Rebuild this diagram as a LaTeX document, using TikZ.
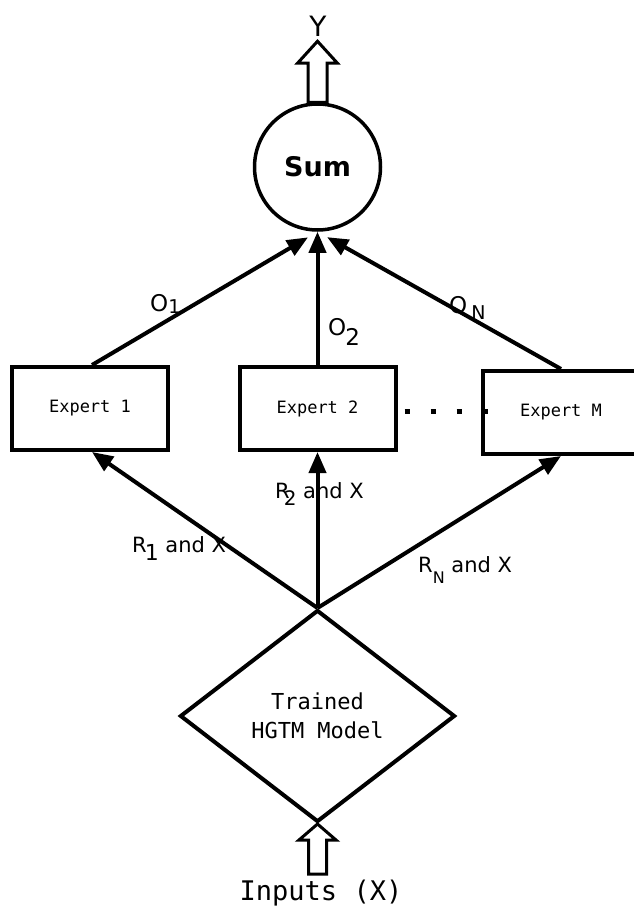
\documentclass[tikz,border=0pt]{standalone}
\usepackage{fontspec}
\setmainfont{DejaVu Sans}
\newfontfamily\monofont{DejaVu Sans Mono}
\usetikzlibrary{shapes.geometric,arrows.meta}
% lowered, resized subscript: #1 drop (pt), #2 size (pt), #3 text
\newcommand\dropsub[3]{\raisebox{-#1pt}{\fontsize{#2}{#2}\selectfont #3}}
\newcommand\expertfont{\monofont\fontsize{17}{20}\selectfont}
\newcommand\modelfont{\monofont\fontsize{22}{29}\selectfont}
\begin{document}
\begin{tikzpicture}[x=1pt,y=-1pt,
  box/.style={draw, line width=4pt, minimum width=156pt, minimum height=83pt,
    inner sep=0pt},
  link/.style={line width=4pt, -{Triangle[length=21pt,width=17pt]}},
  hollow/.style={draw, line width=3pt, fill=white, line join=miter},
  olbl/.style={inner sep=0pt, anchor=base west, font=\fontsize{23}{26}\selectfont},
  rlbl/.style={inner sep=0pt, anchor=base west, font=\fontsize{21}{24}\selectfont},
]
\useasboundingbox (0,0) rectangle (634,907);
\fill[white] (0,0) rectangle (634,907);

% nodes
\node[circle, draw, line width=3.5pt, minimum size=126pt, inner sep=0pt,
      font=\bfseries\fontsize{27}{30}\selectfont] (sum) at (317.5,167) {Sum};
\node[box] (e1) at (90,408.5) {\expertfont Expert 1};
\node[box] (e2) at (317.5,408.5) {\expertfont Expert 2};
\node[box] (em) at (561,412.5) {\expertfont Expert M};
\node[diamond, draw, line width=4pt, aspect=1.297, minimum width=275pt,
      minimum height=212pt, inner sep=0pt, align=center,
      font=\modelfont] (hgtm) at (317.5,716) {Trained\\HGTM Model};
\node[anchor=base, inner sep=0pt, font=\fontsize{28}{30}\selectfont] (yout) at (318,37) {Y};
\node[anchor=base, inner sep=0pt, font=\monofont\fontsize{27}{30}\selectfont] (xin) at (321,900) {Inputs (X)};

% hollow output arrow above the sum
\draw[hollow] ([xshift=-9.5pt]sum.north) -- ++(0,-39) -- ++(-10.5,0) -- ++(20,-22)
  -- ++(20,22) -- ++(-10.5,0) -- ++(0,39) -- cycle;
% hollow input arrow below the model
\draw[hollow] (hgtm.south) -- ++(18.5,16) -- ++(-9.5,0) -- ++(0,34) -- ++(-18,0)
  -- ++(0,-34) -- ++(-9.5,0) -- cycle;

% expert outputs into the sum
\draw[link, shorten >=11pt] ([xshift=2pt]e1.north) -- (sum.south);
\draw[link] (e2.north) -- (sum.south);
\draw[link, shorten >=11pt] (em.north) -- (sum.south);

% model outputs into the experts
\draw[link] (hgtm.north) -- ([xshift=2pt]e1.south);
\draw[link] (hgtm.north) -- (e2.south);
\draw[link] (hgtm.north) -- (em.south);

% ellipsis between experts
\coordinate (dotsL) at (397,411);
\coordinate (dotsR) at (488,411);
\draw[line width=5pt, dash pattern=on 5pt off 21pt, dash phase=18.5pt] (dotsL) -- (dotsR);

% labels
\node[olbl] (o1) at (150,311) {O\dropsub{2}{19}{1}};
\node[olbl] (o2) at (328,335) {O\kern-1pt\dropsub{10}{23}{2}};
\node[olbl] (on) at (449,313) {O\kern4pt\dropsub{6}{19}{N}};
\node[rlbl] (r1) at (132,552) {R\kern-2pt\dropsub{8}{22}{1} and X};
\node[rlbl] (r2) at (275,498) {R\kern-6pt\dropsub{7}{20}{2} and X};
\node[rlbl] (rn) at (418,572) {R\dropsub{11}{16}{N} and X};
\end{tikzpicture}
\end{document}
